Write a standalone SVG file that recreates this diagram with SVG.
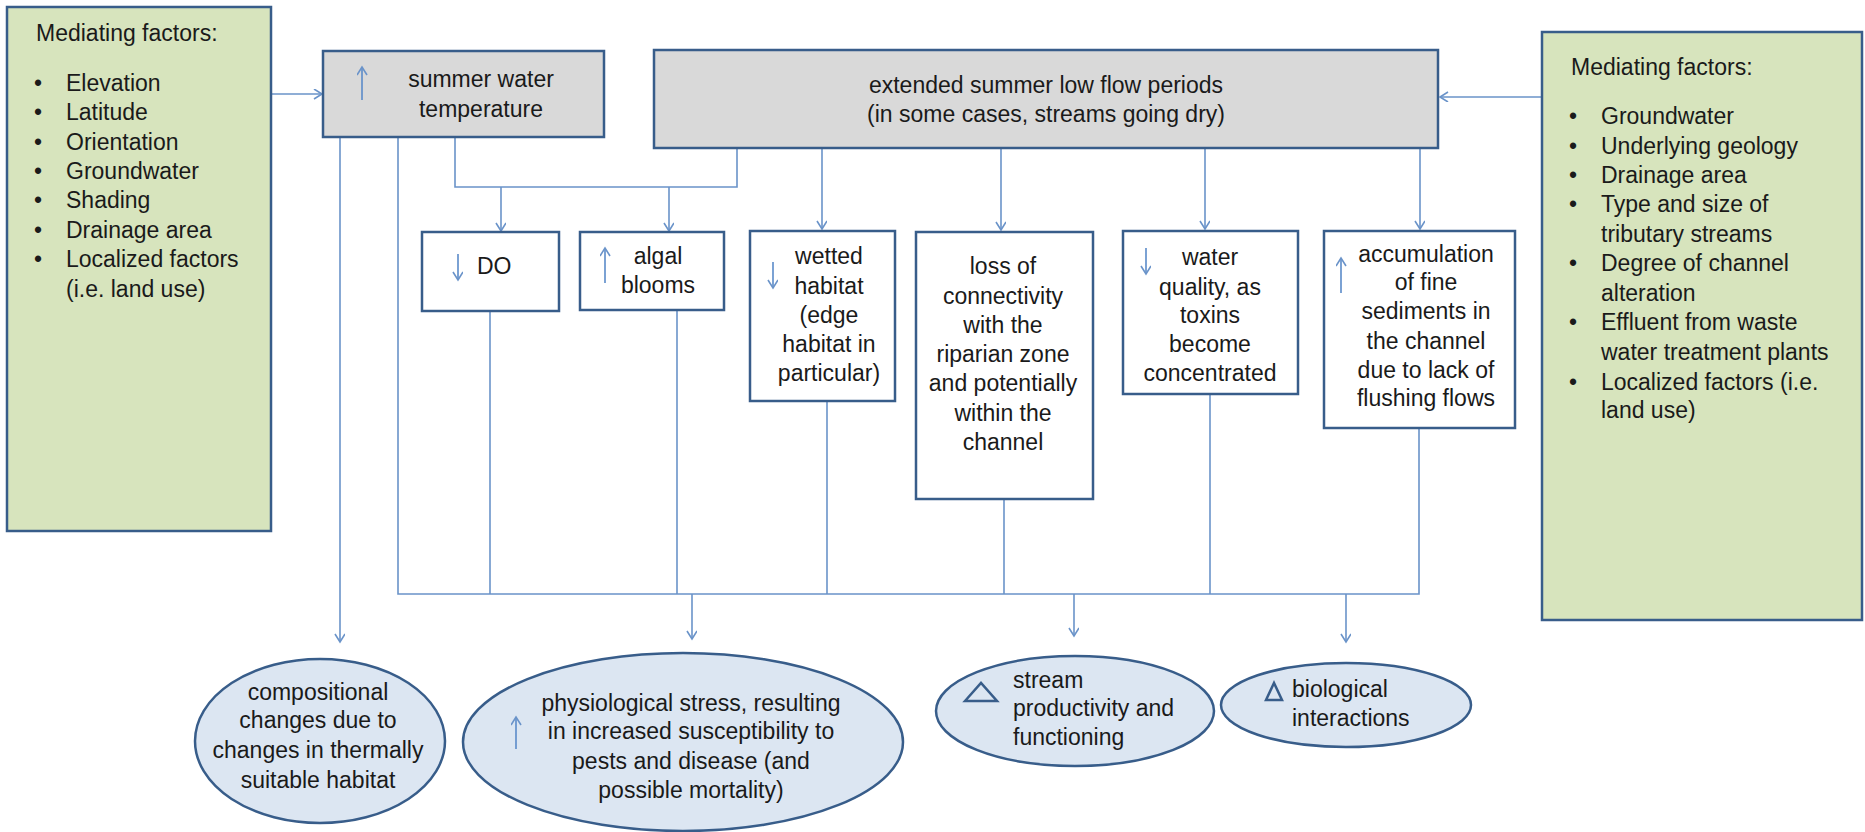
<svg xmlns="http://www.w3.org/2000/svg" width="1865" height="832" viewBox="0 0 1865 832">
<style>
text{font-family:"Liberation Sans",Arial,sans-serif;font-size:23px;fill:#1a1a1a}
.c{text-anchor:middle}
.green{fill:#D7E4BD;stroke:#385D8A;stroke-width:2.5}
.gray{fill:#D9D9D9;stroke:#385D8A;stroke-width:2.5}
.box{fill:#FFFFFF;stroke:#385D8A;stroke-width:2.5}
.ell{fill:#DCE6F2;stroke:#385D8A;stroke-width:2.5}
.ln{fill:none;stroke:#6A93C9;stroke-width:1.6}
.arr{fill:none;stroke:#6A93C9;stroke-width:1.6;marker-end:url(#ah)}
.sym{fill:none;stroke:#5B8BC9;stroke-width:1.6;marker-end:url(#ah)}
.tri{fill:none;stroke:#385D8A;stroke-width:2.5}
</style>
<defs>
<marker id="ah" markerWidth="12" markerHeight="12" refX="9" refY="5" orient="auto" markerUnits="userSpaceOnUse">
<path d="M1,0 L9,5 L1,10" fill="none" stroke="#6A93C9" stroke-width="1.6"/>
</marker>
</defs>
<g id="connectors">
<path class="arr" d="M271,94 H322"/>
<path class="arr" d="M1542,97 H1440"/>
<path class="ln" d="M455,137 V187 H737 V148"/>
<path class="arr" d="M501,187 V231"/>
<path class="arr" d="M669,187 V231"/>
<path class="arr" d="M822,148 V229"/>
<path class="arr" d="M1001,148 V230"/>
<path class="arr" d="M1205,148 V229"/>
<path class="arr" d="M1420,148 V229"/>
<path class="arr" d="M340,137 V642"/>
<path class="ln" d="M398,137 V594 H1419 V428"/>
<path class="ln" d="M490,311 V594"/>
<path class="ln" d="M677,310 V594"/>
<path class="ln" d="M827,401 V594"/>
<path class="ln" d="M1004,499 V594"/>
<path class="ln" d="M1210,394 V594"/>
<path class="arr" d="M692,594 V639"/>
<path class="arr" d="M1074,594 V636"/>
<path class="arr" d="M1346,594 V642"/>
</g>
<g id="mediating-left">
<rect class="green" x="7" y="7" width="264" height="524"/>
<text x="36" y="41">Mediating factors:</text>
<text x="34" y="91">•</text><text x="66" y="91">Elevation</text>
<text x="34" y="120">•</text><text x="66" y="120">Latitude</text>
<text x="34" y="150">•</text><text x="66" y="150">Orientation</text>
<text x="34" y="179">•</text><text x="66" y="179">Groundwater</text>
<text x="34" y="208">•</text><text x="66" y="208">Shading</text>
<text x="34" y="238">•</text><text x="66" y="238">Drainage area</text>
<text x="34" y="267">•</text><text x="66" y="267">Localized factors</text>
<text x="66" y="297">(i.e. land use)</text>
</g>
<g id="summer-temp">
<rect class="gray" x="323" y="51" width="281" height="86"/>
<path class="sym" d="M362,100 V67"/>
<text class="c" x="481" y="87">summer water</text>
<text class="c" x="481" y="117">temperature</text>
</g>
<g id="low-flow">
<rect class="gray" x="654" y="50" width="784" height="98"/>
<text class="c" x="1046" y="93">extended summer low flow periods</text>
<text class="c" x="1046" y="122">(in some cases, streams going dry)</text>
</g>
<g id="mediating-right">
<rect class="green" x="1542" y="32" width="320" height="588"/>
<text x="1571" y="75">Mediating factors:</text>
<text x="1569" y="124">•</text><text x="1601" y="124">Groundwater</text>
<text x="1569" y="154">•</text><text x="1601" y="154">Underlying geology</text>
<text x="1569" y="183">•</text><text x="1601" y="183">Drainage area</text>
<text x="1569" y="212">•</text><text x="1601" y="212">Type and size of</text>
<text x="1601" y="242">tributary streams</text>
<text x="1569" y="271">•</text><text x="1601" y="271">Degree of channel</text>
<text x="1601" y="301">alteration</text>
<text x="1569" y="330">•</text><text x="1601" y="330">Effluent from waste</text>
<text x="1601" y="360">water treatment plants</text>
<text x="1569" y="390">•</text><text x="1601" y="390">Localized factors (i.e.</text>
<text x="1601" y="418">land use)</text>
</g>
<g id="do">
<rect class="box" x="422" y="232" width="137" height="79"/>
<path class="sym" d="M458,254 V280"/>
<text x="477" y="274">DO</text>
</g>
<g id="algal">
<rect class="box" x="580" y="232" width="144" height="78"/>
<path class="sym" d="M605,283 V248"/>
<text class="c" x="658" y="264">algal</text>
<text class="c" x="658" y="293">blooms</text>
</g>
<g id="wetted">
<rect class="box" x="750" y="231" width="145" height="170"/>
<path class="sym" d="M773,262 V288"/>
<text class="c" x="829" y="264">wetted</text>
<text class="c" x="829" y="294">habitat</text>
<text class="c" x="829" y="323">(edge</text>
<text class="c" x="829" y="352">habitat in</text>
<text class="c" x="829" y="381">particular)</text>
</g>
<g id="connectivity">
<rect class="box" x="916" y="232" width="177" height="267"/>
<text class="c" x="1003" y="274">loss of</text>
<text class="c" x="1003" y="304">connectivity</text>
<text class="c" x="1003" y="333">with the</text>
<text class="c" x="1003" y="362">riparian zone</text>
<text class="c" x="1003" y="391">and potentially</text>
<text class="c" x="1003" y="421">within the</text>
<text class="c" x="1003" y="450">channel</text>
</g>
<g id="water-quality">
<rect class="box" x="1123" y="231" width="175" height="163"/>
<path class="sym" d="M1146,248 V274"/>
<text class="c" x="1210" y="265">water</text>
<text class="c" x="1210" y="295">quality, as</text>
<text class="c" x="1210" y="323">toxins</text>
<text class="c" x="1210" y="352">become</text>
<text class="c" x="1210" y="381">concentrated</text>
</g>
<g id="sediments">
<rect class="box" x="1324" y="231" width="191" height="197"/>
<path class="sym" d="M1341,293 V258"/>
<text class="c" x="1426" y="262">accumulation</text>
<text class="c" x="1426" y="290">of fine</text>
<text class="c" x="1426" y="319">sediments in</text>
<text class="c" x="1426" y="349">the channel</text>
<text class="c" x="1426" y="378">due to lack of</text>
<text class="c" x="1426" y="406">flushing flows</text>
</g>
<g id="compositional">
<ellipse class="ell" cx="320" cy="741" rx="125" ry="82"/>
<text class="c" x="318" y="700">compositional</text>
<text class="c" x="318" y="728">changes due to</text>
<text class="c" x="318" y="758">changes in thermally</text>
<text class="c" x="318" y="788">suitable habitat</text>
</g>
<g id="physiological">
<ellipse class="ell" cx="683" cy="742" rx="220" ry="89"/>
<path class="sym" d="M516,749 V717"/>
<text class="c" x="691" y="711">physiological stress, resulting</text>
<text class="c" x="691" y="739">in increased susceptibility to</text>
<text class="c" x="691" y="769">pests and disease (and</text>
<text class="c" x="691" y="798">possible mortality)</text>
</g>
<g id="productivity">
<ellipse class="ell" cx="1075" cy="711" rx="139" ry="55"/>
<path class="tri" d="M965,701 L981,683 L997,701 Z"/>
<text x="1013" y="688">stream</text>
<text x="1013" y="716">productivity and</text>
<text x="1013" y="745">functioning</text>
</g>
<g id="interactions">
<ellipse class="ell" cx="1346" cy="705" rx="125" ry="42"/>
<path class="tri" d="M1266,700 L1274,683 L1282,700 Z"/>
<text x="1292" y="697">biological</text>
<text x="1292" y="726">interactions</text>
</g>
</svg>
